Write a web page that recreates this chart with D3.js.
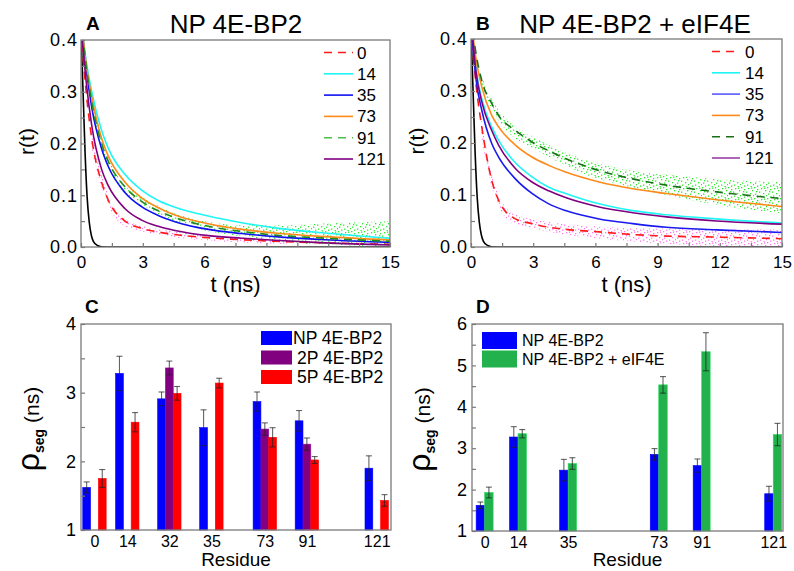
<!DOCTYPE html>
<html>
<head>
<meta charset="utf-8">
<script src="https://cdn.jsdelivr.net/npm/d3@7/dist/d3.min.js"></script>
<style>
  body { margin: 0; background: #fff; }
  text { font-family: "Liberation Sans", Arial, sans-serif; fill: #000; }
</style>
</head>
<body>
<svg id="fig" width="794" height="571"></svg>
<script>
var tFit = [0, 0.25, 0.52, 1.0, 1.33, 2.14, 2.94, 3.75, 4.56, 6.18, 7.8, 9.42, 11.84, 15];

var rA0   = [0.42, 0.30, 0.21, 0.125, 0.09, 0.05, 0.036, 0.029, 0.024, 0.018, 0.014, 0.011, 0.008, 0.005];
var rA14  = [0.44, 0.36, 0.30, 0.225, 0.19, 0.14, 0.11, 0.09, 0.077, 0.06, 0.047, 0.037, 0.027, 0.017];
var rA35  = [0.44, 0.345, 0.27, 0.19, 0.155, 0.105, 0.078, 0.061, 0.049, 0.034, 0.026, 0.02, 0.014, 0.009];
var rA73  = [0.44, 0.355, 0.29, 0.21, 0.175, 0.125, 0.095, 0.076, 0.062, 0.045, 0.034, 0.027, 0.02, 0.0135];
var rA91  = [0.44, 0.35, 0.28, 0.20, 0.165, 0.116, 0.088, 0.07, 0.057, 0.04, 0.03, 0.023, 0.017, 0.011];
var rA121 = [0.43, 0.32, 0.235, 0.15, 0.118, 0.074, 0.052, 0.04, 0.032, 0.022, 0.017, 0.013, 0.008, 0.004];

var rB0   = [0.42, 0.31, 0.231, 0.128, 0.09, 0.054, 0.045, 0.038, 0.034, 0.029, 0.024, 0.021, 0.019, 0.016];
var rB14  = [0.44, 0.34, 0.285, 0.231, 0.205, 0.162, 0.135, 0.115, 0.103, 0.083, 0.07, 0.062, 0.054, 0.046];
var rB35  = [0.43, 0.32, 0.263, 0.199, 0.173, 0.131, 0.103, 0.083, 0.07, 0.054, 0.045, 0.038, 0.033, 0.028];
var rB73  = [0.44, 0.36, 0.308, 0.253, 0.231, 0.196, 0.173, 0.157, 0.144, 0.125, 0.112, 0.103, 0.091, 0.078];
var rB91  = [0.44, 0.37, 0.32, 0.276, 0.253, 0.224, 0.202, 0.185, 0.17, 0.147, 0.131, 0.119, 0.106, 0.093];
var rB121 = [0.44, 0.335, 0.279, 0.224, 0.196, 0.151, 0.125, 0.108, 0.095, 0.077, 0.066, 0.058, 0.05, 0.044];

// instrument response (black)
var tIrf = [0, 0.1, 0.2, 0.3, 0.4, 0.5, 0.6, 0.8, 1.0, 1.5, 15];
var rIrf = [0.42, 0.30, 0.18, 0.095, 0.048, 0.023, 0.011, 0.003, 0.0005, 0, 0];

// spread of the raw data points (upper / lower edge)
var tBand = [0.5, 1, 2, 3, 4.5, 6, 8, 10, 12, 15];
var greenHiA = [0.30, 0.21, 0.125, 0.097, 0.066, 0.05, 0.042, 0.042, 0.046, 0.05];
var greenLoA = [0.27, 0.19, 0.108, 0.080, 0.050, 0.032, 0.02, 0.01, 0.004, 0.002];
var pinkHiA  = [0.23, 0.14, 0.058, 0.042, 0.03, 0.024, 0.018, 0.015, 0.012, 0.01];
var pinkLoA  = [0.19, 0.115, 0.043, 0.03, 0.019, 0.013, 0.008, 0.006, 0.005, 0.004];
var greenHiB = [0.33, 0.285, 0.235, 0.212, 0.182, 0.162, 0.145, 0.137, 0.13, 0.125];
var greenLoB = [0.31, 0.265, 0.213, 0.19, 0.158, 0.132, 0.112, 0.095, 0.08, 0.065];
var pinkHiB  = [0.25, 0.14, 0.065, 0.054, 0.044, 0.04, 0.036, 0.035, 0.034, 0.034];
var pinkLoB  = [0.21, 0.115, 0.046, 0.036, 0.024, 0.017, 0.01, 0.005, 0.002, 0.001];

var residuesAB = ["0", "14", "35", "73", "91", "121"];

// ---- panel C ----
var residuesC = ["0", "14", "32", "35", "73", "91", "121"];
var slotC = [0.22, 1, 2, 3, 4.27, 5.27, 6.93];
var npC   = [1.62, 3.28, 2.91, 2.49, 2.87, 2.59, 1.90];
var npErrC = [0.08, 0.25, 0.1, 0.26, 0.14, 0.15, 0.18];
var p2C   = [null, null, 3.36, null, 2.47, 2.25, null];
var p2ErrC = [null, null, 0.1, null, 0.09, 0.09, null];
var p5C   = [1.75, 2.57, 2.99, 3.14, 2.35, 2.02, 1.43];
var p5ErrC = [0.13, 0.14, 0.1, 0.07, 0.14, 0.05, 0.085];

// ---- panel D ----
var residuesD = [0, 14, 35, 73, 91, 121];
var npD    = [1.62, 3.27, 2.47, 2.85, 2.58, 1.90];
var npErrD = [0.08, 0.25, 0.26, 0.14, 0.16, 0.18];
var eifD    = [1.93, 3.35, 2.63, 4.53, 5.33, 3.33];
var eifErrD = [0.13, 0.1, 0.14, 0.2, 0.46, 0.27];

var axisColor = "#7a7a7a";
var svg = d3.select("#fig");
var defs = svg.append("defs");

// speckle used to suggest the raw data points
function dotPattern(id, color) {
  var p = defs.append("pattern").attr("id", id)
    .attr("patternUnits", "userSpaceOnUse").attr("width", 13).attr("height", 11);
  [[0, 0], [7, 1], [3, 2], [11, 3], [5, 4.5], [9, 6], [1, 6.5], [12, 8], [6, 8.5],
   [3, 9.5], [9.5, 10], [2, 4], [10, 0.5]].forEach(function (d) {
    p.append("rect").attr("x", d[0]).attr("y", d[1]).attr("width", 1.3).attr("height", 1.3).attr("fill", color);
  });
}
dotPattern("dotsGreen", "#2bea2b");
dotPattern("dotsPink", "#ff77f0");

function zip(xs, ys) { return xs.map(function (x, i) { return [x, ys[i]]; }); }

function frame(g, b) {
  g.append("rect").attr("x", b.left).attr("y", b.top)
    .attr("width", b.right - b.left).attr("height", b.bottom - b.top)
    .attr("fill", "none").attr("stroke", axisColor).attr("stroke-width", 1.3);
}

function styleAxis(sel, size) {
  sel.select(".domain").remove();
  sel.selectAll(".tick line").attr("stroke", axisColor).attr("stroke-width", 1.2);
  sel.selectAll(".tick text").attr("font-size", size).attr("fill", "#000");
}

function decayPanel(b, curves, bands, letter, title, titleX, leg) {
  var g = svg.append("g");
  var x = d3.scaleLinear().domain([0, 15]).range([b.left, b.right]);
  var y = d3.scaleLinear().domain([0, 0.4]).range([b.bottom, b.top]);
  var clipId = "clip" + letter;
  defs.append("clipPath").attr("id", clipId).append("rect")
    .attr("x", b.left).attr("y", b.top).attr("width", b.right - b.left).attr("height", b.bottom - b.top);
  var plot = g.append("g").attr("clip-path", "url(#" + clipId + ")");

  var area = d3.area().x(function (d) { return x(d[0]); })
    .y0(function (d) { return y(d[1]); }).y1(function (d) { return y(d[2]); })
    .curve(d3.curveMonotoneX);
  bands.forEach(function (bd) {
    var pts = tBand.map(function (t, i) { return [t, bd.lo[i], bd.hi[i]]; })
      .filter(function (d) { return d[0] <= bd.tMax; });
    plot.append("path").attr("d", area(pts)).attr("fill", "url(#" + bd.pattern + ")");
  });

  var line = d3.line().x(function (d) { return x(d[0]); }).y(function (d) { return y(d[1]); })
    .curve(d3.curveMonotoneX);
  plot.append("path").attr("d", line(zip(tIrf, rIrf)))
    .attr("fill", "none").attr("stroke", "#000").attr("stroke-width", 1.6);
  curves.forEach(function (c) {
    plot.append("path").attr("d", line(zip(tFit, c.r)))
      .attr("fill", "none").attr("stroke", c.color).attr("stroke-width", 1.6)
      .attr("stroke-dasharray", c.dash ? "8,6" : null);
  });

  var xAx = g.append("g").attr("transform", "translate(0," + b.bottom + ")")
    .call(d3.axisBottom(x).tickValues(d3.range(0, 15.01, 1.5)).tickSize(-4).tickPadding(9)
      .tickFormat(function (d) { return d % 3 === 0 ? d : ""; }));
  styleAxis(xAx, "17px");
  var yAx = g.append("g").attr("transform", "translate(" + b.left + ",0)")
    .call(d3.axisLeft(y).tickValues(d3.range(0, 0.401, 0.05)).tickSize(-4).tickPadding(3)
      .tickFormat(function (d, i) { return i % 2 === 0 ? d3.format(".1f")(d) : ""; }));
  styleAxis(yAx, "18px");
  yAx.selectAll(".tick text").attr("letter-spacing", "1px");
  frame(g, b);

  g.append("text").attr("x", (b.left + b.right) / 2).attr("y", b.bottom + 45)
    .attr("text-anchor", "middle").attr("font-size", "22px").text("t (ns)");
  g.append("text").attr("transform", "translate(" + (b.left - 47) + "," + ((b.top + b.bottom) / 2 - 2) + ") rotate(-90)")
    .attr("text-anchor", "middle").attr("font-size", "21px").text("r(t)");
  g.append("text").attr("x", b.left + 5).attr("y", 30).attr("font-size", "19px")
    .attr("font-weight", "bold").text(letter);
  g.append("text").attr("x", titleX).attr("y", 33).attr("text-anchor", "middle")
    .attr("font-family", "'Noto Sans', sans-serif").attr("font-size", "26px").text(title);

  curves.forEach(function (c, i) {
    var ly = b.top + 12.5 + i * 21.3;
    g.append("line").attr("x1", leg.x1).attr("x2", leg.x2).attr("y1", ly).attr("y2", ly)
      .attr("stroke", c.legendColor || c.color).attr("stroke-width", 1.6)
      .attr("stroke-dasharray", c.dash ? "8,6" : null);
    g.append("text").attr("x", leg.tx).attr("y", ly + 6).attr("font-size", "17px").text(residuesAB[i]);
  });
}

decayPanel({ left: 81, right: 390, top: 40, bottom: 247 },
  [
    { r: rA0, color: "#ff1a1a", dash: true },
    { r: rA14, color: "#1ff5f5" },
    { r: rA35, color: "#1010f0" },
    { r: rA73, color: "#ff8a1a" },
    { r: rA91, color: "#1e8a1e", legendColor: "#4bbf4b", dash: true },
    { r: rA121, color: "#800080" }
  ],
  [
    { lo: pinkLoA, hi: pinkHiA, pattern: "dotsPink", tMax: 10 },
    { lo: greenLoA, hi: greenHiA, pattern: "dotsGreen", tMax: 15 }
  ],
  "A", "NP 4E-BP2", 236, { x1: 324, x2: 353, tx: 357 });

decayPanel({ left: 471, right: 782, top: 39, bottom: 247 },
  [
    { r: rB0, color: "#ff1a1a", dash: true },
    { r: rB14, color: "#1ff5f5" },
    { r: rB35, color: "#1a1af0", legendColor: "#5a5aff" },
    { r: rB73, color: "#ff8a1a" },
    { r: rB91, color: "#1a6e1a", dash: true },
    { r: rB121, color: "#800080", legendColor: "#9a40a6" }
  ],
  [
    { lo: pinkLoB, hi: pinkHiB, pattern: "dotsPink", tMax: 15 },
    { lo: greenLoB, hi: greenHiB, pattern: "dotsGreen", tMax: 15 }
  ],
  "B", "NP 4E-BP2 + eIF4E", 635, { x1: 712, x2: 740, tx: 745 });

// ---- bar panels ----
function rhoLabel(g, cx, cy) {
  var t = g.append("text").attr("transform", "translate(" + cx + "," + cy + ") rotate(-90)")
    .attr("text-anchor", "middle");
  t.append("tspan").attr("font-size", "32px").text("\u03c1");
  t.append("tspan").attr("font-size", "14px").attr("font-weight", "bold").attr("dy", 5).text("seg");
  t.append("tspan").attr("font-size", "21px").attr("dy", -5).text(" (ns)");
}

function bars(g, x, y, pos, vals, errs, offset, bw, color) {
  pos.forEach(function (p, i) {
    if (vals[i] == null) return;
    var cx = x(p) + offset + bw / 2;
    g.append("rect").attr("x", cx - bw / 2).attr("y", y(vals[i]))
      .attr("width", bw).attr("height", y.range()[0] - y(vals[i]))
      .attr("fill", color).attr("stroke", d3.color(color).brighter(0.6)).attr("stroke-width", 0.6);
    var lo = y(vals[i] - errs[i]), hi = y(vals[i] + errs[i]);
    g.append("line").attr("x1", cx).attr("x2", cx).attr("y1", lo).attr("y2", hi)
      .attr("stroke", "#222").attr("stroke-opacity", 0.7).attr("stroke-width", 1.1);
    [lo, hi].forEach(function (yy) {
      g.append("line").attr("x1", cx - 3).attr("x2", cx + 3).attr("y1", yy).attr("y2", yy)
        .attr("stroke", "#222").attr("stroke-opacity", 0.7).attr("stroke-width", 1.1);
    });
  });
}

function barAxes(g, b, x, y, tickPos, tickLab, yMax, letter) {
  var xAx = g.append("g").attr("transform", "translate(0," + b.bottom + ")")
    .call(d3.axisBottom(x).tickValues(tickPos).tickSize(0).tickPadding(6)
      .tickFormat(function (d, i) { return tickLab[i]; }));
  styleAxis(xAx, "16px");
  var yAx = g.append("g").attr("transform", "translate(" + b.left + ",0)")
    .call(d3.axisLeft(y).tickValues(d3.range(1, yMax + 0.01, 0.5)).tickSize(-4).tickPadding(5)
      .tickFormat(function (d) { return d % 1 === 0 ? d : ""; }));
  styleAxis(yAx, "18px");
  frame(g, b);
  g.append("text").attr("x", (b.left + b.right) / 2).attr("y", 566)
    .attr("text-anchor", "middle").attr("font-size", "19px").text("Residue");
  g.append("text").attr("x", b.left + 4).attr("y", 313).attr("font-size", "19px")
    .attr("font-weight", "bold").text(letter);
  rhoLabel(g, b.left - 42, (b.top + b.bottom) / 2 + 2);
}

(function () {
  var b = { left: 81, right: 391, top: 324, bottom: 530 };
  var g = svg.append("g");
  var x = d3.scaleLinear().domain([-0.1, 7.27]).range([b.left, b.right]);
  var y = d3.scaleLinear().domain([1, 4]).range([b.bottom, b.top]);
  var bw = 7.8;
  bars(g, x, y, slotC, npC, npErrC, -1.5 * bw, bw, "#0000ff");
  bars(g, x, y, slotC, p2C, p2ErrC, -0.5 * bw, bw, "#800080");
  bars(g, x, y, slotC, p5C, p5ErrC, 0.5 * bw, bw, "#ff0000");
  barAxes(g, b, x, y, slotC, residuesC, 4, "C");
  var legC = [["NP 4E-BP2", "#0000ff", 293], ["2P 4E-BP2", "#800080", 297], ["5P 4E-BP2", "#ff0000", 297]];
  legC.forEach(function (d, i) {
    var ly = 331 + i * 19.5;
    g.append("rect").attr("x", 261).attr("y", ly).attr("width", 31).attr("height", 14).attr("fill", d[1]);
    g.append("text").attr("x", d[2]).attr("y", ly + 13).attr("font-size", "17.5px").text(d[0]);
  });
})();

(function () {
  var b = { left: 472, right: 783, top: 324, bottom: 531 };
  var g = svg.append("g");
  var x = d3.scaleLinear().domain([-5.3, 125.1]).range([b.left, b.right]);
  var y = d3.scaleLinear().domain([1, 6]).range([b.bottom, b.top]);
  var bw = 8.5;
  bars(g, x, y, residuesD, npD, npErrD, -bw, bw, "#0000ff");
  bars(g, x, y, residuesD, eifD, eifErrD, 0, bw, "#22b14c");
  barAxes(g, b, x, y, residuesD, residuesD, 6, "D");
  var legD = [["NP 4E-BP2", "#0000ff"], ["NP 4E-BP2 + eIF4E", "#22b14c"]];
  legD.forEach(function (d, i) {
    var ly = 332 + i * 18.5;
    g.append("rect").attr("x", 482).attr("y", ly).attr("width", 35).attr("height", 17).attr("fill", d[1]);
    g.append("text").attr("x", 522).attr("y", ly + 14).attr("font-size", "16px").text(d[0]);
  });
})();
</script>
</body>
</html>
